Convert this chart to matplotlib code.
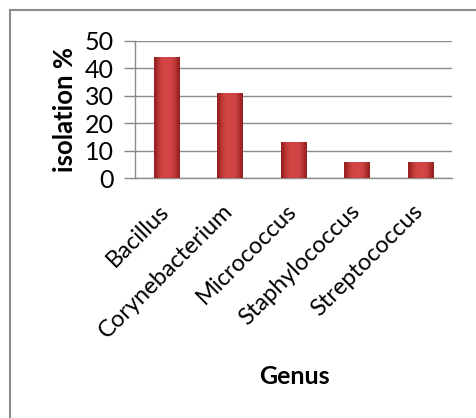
import matplotlib
matplotlib.use("Agg")
import matplotlib.pyplot as plt
from matplotlib.lines import Line2D
import numpy as np

genera = ["Bacillus", "Corynebacterium", "Micrococcus", "Staphylococcus", "Streptococcus"]
isolation = [44, 31, 13, 6, 6]
y_ticks = [0, 10, 20, 30, 40, 50]

W, H = 476, 418
fig = plt.figure(figsize=(W / 100, H / 100), dpi=100)
fig.patch.set_facecolor("white")

ax = fig.add_axes([135 / W, 1 - 178 / H, (452 - 135) / W, (178 - 41) / H])
x = np.arange(len(genera))
bars = ax.bar(x, isolation, width=0.4, color="#c93a3a", edgecolor="none", zorder=3)

# horizontal shading on each bar for a rounded look
shade = np.array([[0.55, 0.8, 0.95, 1.0, 1.0, 1.0, 0.95, 0.8, 0.55]])
cmap = matplotlib.colors.LinearSegmentedColormap.from_list("r", ["#8e1c1c", "#d44545"])
for b in bars:
    x0, w, h = b.get_x(), b.get_width(), b.get_height()
    im = ax.imshow(shade, extent=(x0, x0 + w, 0, h), aspect="auto", cmap=cmap,
                   vmin=0.5, vmax=1.0, zorder=4, interpolation="bicubic")
    im.set_clip_path(b)

ax.set_xlim(-0.5, len(genera) - 0.5)
ax.set_ylim(0, 50)
ax.set_yticks(y_ticks)
ax.set_xticks(x)
ax.set_xticklabels([])

# category names, slanted and hung from each bar position
for xi, name in zip(x, genera):
    ax.annotate(name, xy=(xi, 0), xycoords=("data", "axes fraction"),
                xytext=(-5.8, -16.1), textcoords="offset points",
                rotation=45, ha="right", va="top", rotation_mode="anchor",
                fontsize=17, family="Lato", annotation_clip=False)

for lbl in ax.get_yticklabels():
    lbl.set_fontsize(18)
    lbl.set_family("Lato")
ax.tick_params(axis="x", length=0)
ax.tick_params(axis="y", length=8, color="#888888", width=1, pad=7)
ax.grid(axis="y", color="#8c8c8c", linewidth=1, zorder=0)
for s in ["top", "right"]:
    ax.spines[s].set_visible(False)
for s in ["left", "bottom"]:
    ax.spines[s].set_color("#8c8c8c")
    ax.spines[s].set_linewidth(1)
ax.set_axisbelow(True)

ax.set_ylabel("isolation %", fontsize=18.5, fontweight="bold", family="Lato", labelpad=6)
fig.text(294 / W, 1 - 377 / H, "Genus", ha="center", va="center",
         fontsize=18, fontweight="bold", family="Lato")

# frame edges along the top and left
fig.add_artist(Line2D([9.5 / W, 9.5 / W], [0, 1 - 10 / H], color="#8c8c8c",
                      linewidth=1.5, transform=fig.transFigure))
fig.add_artist(Line2D([9.5 / W, 1], [1 - 10 / H, 1 - 10 / H], color="#8c8c8c",
                      linewidth=1.5, transform=fig.transFigure))

fig.savefig("out.png", dpi=100, facecolor="white")
